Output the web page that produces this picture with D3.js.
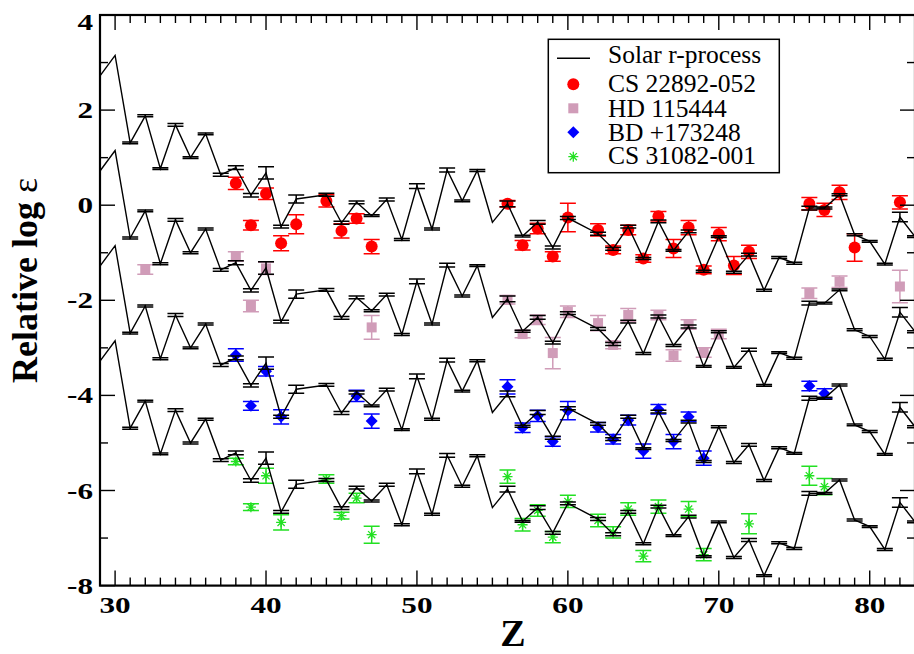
<!DOCTYPE html>
<html><head><meta charset="utf-8">
<script src="https://cdn.jsdelivr.net/npm/d3@7"></script>
<style>html,body{margin:0;padding:0;background:#fff;}svg{display:block;}</style>
</head><body>
<svg id="chart" width="914" height="654"></svg>
<script>
// ---------------- data ----------------
const solarZ   = [29,30,31,32,33,34,35,36,37,38,39,40,41,42,44,45,46,47,48,49,50,51,52,53,54,55,56,57,58,59,60,62,63,64,65,66,67,68,69,70,71,72,73,74,75,76,77,78,79,80,81,82,83];
const solarVal = [2.72,3.15,1.31,1.88,0.77,1.69,1.00,1.50,0.64,0.79,0.21,0.68,-0.45,0.13,0.22,-0.37,0.06,-0.22,0.12,-0.72,0.40,-0.50,0.74,0.09,0.73,-0.36,0.03,-0.65,-0.36,-0.89,-0.27,-0.60,-0.92,-0.45,-1.12,-0.34,-0.95,-0.55,-1.39,-0.66,-1.41,-1.04,-1.79,-1.10,-1.22,-0.06,-0.06,0.22,-0.62,-0.76,-1.24,-0.25,-0.66];
const solarErr = [0,0,0.02,0.02,0.02,0.03,0.02,0.02,0.03,0.04,0.035,0.13,0.03,0.085,0.03,0.03,0.03,0.02,0.03,0.02,0.05,0.02,0.04,0.02,0.02,0,0.06,0.02,0.04,0.03,0.03,0.03,0.03,0.03,0.02,0.03,0.02,0.03,0.02,0.02,0.02,0.03,0.02,0.02,0.02,0.04,0.02,0.02,0.02,0.02,0.02,0.1,0.02];
const solarOffsets = [0,-2,-4,-6];

const cs22892Z   = [38,39,40,41,42,44,45,46,47,56,57,58,59,60,62,63,64,65,66,67,68,69,70,71,72,76,77,78,79,82];
const cs22892Val = [0.46,-0.42,0.24,-0.80,-0.40,0.09,-0.54,-0.28,-0.87,0.03,-0.84,-0.49,-1.08,-0.26,-0.52,-0.94,-0.52,-1.12,-0.23,-0.91,-0.47,-1.36,-0.61,-1.27,-0.98,0.03,-0.10,0.27,-0.89,0.06];
const cs22892Err = [0.13,0.10,0.12,0.16,0.20,0.13,0.15,0.10,0.15,0.07,0.10,0.11,0.10,0.30,0.13,0.08,0.10,0.08,0.10,0.19,0.15,0.08,0.14,0.19,0.14,0.13,0.14,0.15,0.29,0.14];

const hd115444Z   = [32,38,39,40,47,56,57,58,59,60,62,63,64,66,67,68,69,70,76,78,82];
const hd115444Val = [-1.35,-1.08,-2.12,-1.33,-2.57,-1.99,-2.71,-2.41,-3.11,-2.24,-2.48,-2.94,-2.31,-2.31,-3.16,-2.51,-3.10,-2.71,-1.85,-1.61,-1.71];
const hd115444Err = [0.10,0.10,0.12,0.13,0.25,0.09,0.08,0.10,0.33,0.12,0.16,0.08,0.14,0.10,0.12,0.10,0.10,0.10,0.11,0.12,0.34];

const bd173248Z   = [38,39,40,41,46,47,56,57,58,59,60,62,63,64,65,66,67,68,69,76,77];
const bd173248Val = [-3.15,-4.22,-3.49,-4.45,-4.01,-4.54,-3.82,-4.68,-4.43,-4.97,-4.32,-4.67,-4.92,-4.52,-5.17,-4.29,-4.97,-4.45,-5.32,-3.80,-3.96];
const bd173248Err = [0.13,0.09,0.10,0.15,0.12,0.15,0.15,0.10,0.12,0.10,0.19,0.10,0.10,0.10,0.15,0.10,0.15,0.10,0.15,0.10,0.10];

const cs31082Z   = [38,39,40,41,44,45,46,47,56,57,58,59,60,62,63,64,65,66,68,69,72,76,77];
const cs31082Val = [-5.39,-6.35,-5.69,-6.67,-5.76,-6.53,-6.16,-6.93,-5.71,-6.72,-6.42,-6.98,-6.23,-6.63,-6.88,-6.39,-7.38,-6.34,-6.39,-7.35,-6.70,-5.69,-5.92];
const cs31082Err = [0.07,0.07,0.16,0.16,0.09,0.07,0.10,0.18,0.14,0.13,0.12,0.12,0.13,0.13,0.12,0.13,0.12,0.14,0.16,0.13,0.21,0.20,0.17];

const xTicks = [30,40,50,60,70,80];
const yTicks = [-8,-6,-4,-2,0,2,4];
const legendLabels = ["Solar r-process","CS 22892-052","HD 115444","BD +173248","CS 31082-001"];

// ---------------- layout ----------------
const L = 100, R = 915, T = 15, B = 585.6;
const serif = "'Liberation Serif','Times New Roman',Times,serif";
const svg = d3.select("#chart");
const x = d3.scaleLinear().domain([29,83]).range([L,R]);
const y = d3.scaleLinear().domain([-8,4]).range([B,T]);

const stars = [
  {name:legendLabels[1], Z:cs22892Z, v:cs22892Val, e:cs22892Err, color:"#ff0000", shape:"circle"},
  {name:legendLabels[2], Z:hd115444Z, v:hd115444Val, e:hd115444Err, color:"#d09cb8", shape:"square"},
  {name:legendLabels[3], Z:bd173248Z, v:bd173248Val, e:bd173248Err, color:"#0000ff", shape:"diamond"},
  {name:legendLabels[4], Z:cs31082Z, v:cs31082Val, e:cs31082Err, color:"#22e022", shape:"asterisk"}
];

function drawMarker(g, shape, cx, cy, color){
  if(shape==="circle"){
    g.append("circle").attr("cx",cx).attr("cy",cy).attr("r",6).attr("fill",color);
  } else if(shape==="square"){
    g.append("rect").attr("x",cx-5).attr("y",cy-5).attr("width",10).attr("height",10).attr("fill",color);
  } else if(shape==="diamond"){
    g.append("path").attr("d",`M${cx},${cy-6}L${cx+6},${cy}L${cx},${cy+6}L${cx-6},${cy}Z`).attr("fill",color);
  } else {
    const r=5, d=r*0.72;
    g.append("path").attr("d",`M${cx-r},${cy}L${cx+r},${cy}M${cx},${cy-r}L${cx},${cy+r}M${cx-d},${cy-d}L${cx+d},${cy+d}M${cx-d},${cy+d}L${cx+d},${cy-d}`)
      .attr("stroke",color).attr("stroke-width",1.3).attr("fill","none");
  }
}

const plot = svg.append("g");
const capW = 8;

// stars
stars.forEach(s=>{
  const g = plot.append("g");
  s.Z.forEach((z,i)=>{
    const cx=x(z), y1=y(s.v[i]+s.e[i]), y2=y(s.v[i]-s.e[i]);
    g.append("path").attr("d",`M${cx},${y1}L${cx},${y2}M${cx-capW},${y1}L${cx+capW},${y1}M${cx-capW},${y2}L${cx+capW},${y2}`)
      .attr("stroke",s.color).attr("stroke-width",1.5).attr("fill","none");
  });
  s.Z.forEach((z,i)=>drawMarker(g, s.shape, x(z), y(s.v[i]), s.color));
});

// solar r-process curves
solarOffsets.forEach(off=>{
  const pts = solarZ.map((z,i)=>({z, v:solarVal[i]+off, e:solarErr[i]}));
  const line = d3.line().x(d=>x(d.z)).y(d=>y(d.v));
  plot.append("path").attr("d",line(pts)).attr("fill","none").attr("stroke","#000").attr("stroke-width",1.4);
  pts.forEach(d=>{
    if(d.e<=0) return;
    const cx=x(d.z), y1=y(d.v+d.e), y2=y(d.v-d.e);
    plot.append("path").attr("d",`M${cx},${y1}L${cx},${y2}M${cx-capW},${y1}L${cx+capW},${y1}M${cx-capW},${y2}L${cx+capW},${y2}`)
      .attr("stroke","#000").attr("stroke-width",1.5).attr("fill","none");
  });
});

// axes frame + ticks
const ax = svg.append("g").attr("stroke","#000").attr("fill","none");
ax.append("rect").attr("x",L).attr("y",T).attr("width",R-L).attr("height",B-T).attr("stroke-width",2.2);
x.ticks(54).forEach(z=>{
  const len = (z%10===0)?15:8, px=x(z);
  ax.append("line").attr("x1",px).attr("x2",px).attr("y1",B).attr("y2",B-len).attr("stroke-width",1.4);
  ax.append("line").attr("x1",px).attr("x2",px).attr("y1",T).attr("y2",T+len).attr("stroke-width",1.4);
});
y.ticks(12).forEach(v=>{
  const len = (v%2===0)?15:8, py=y(v);
  ax.append("line").attr("x1",L).attr("x2",L+len).attr("y1",py).attr("y2",py).attr("stroke-width",1.4);
  ax.append("line").attr("x1",R).attr("x2",R-len).attr("y1",py).attr("y2",py).attr("stroke-width",1.4);
});

// tick labels
const tl = svg.append("g").style("font-family",serif).style("font-weight","bold").style("font-size","24px").attr("fill","#000");
xTicks.forEach(t=>{
  tl.append("text").attr("transform",`translate(${x(t)},613) scale(1.3,1)`).attr("text-anchor","middle").text(t);
});
yTicks.forEach(t=>{
  const by = Math.max(y(t)+8, 30);
  tl.append("text").attr("transform",`translate(93,${by}) scale(1.3,1)`).attr("text-anchor","end").text(t);
});

// axis titles
svg.append("text").attr("x",513).attr("y",646).attr("text-anchor","middle")
  .style("font-family",serif).style("font-weight","bold").style("font-size","38px").text("Z");
const yl = svg.append("text").attr("transform","translate(37,383) rotate(-90)").attr("text-anchor","start")
  .style("font-family",serif).style("font-weight","bold").style("font-size","36px");
yl.append("tspan").text("Relative log ");
yl.append("tspan").style("font-weight","normal").text("ε");

// legend
const lg = svg.append("g");
lg.append("rect").attr("x",548.3).attr("y",39.3).attr("width",231).attr("height",133.4).attr("fill","#fff").attr("stroke","#000").attr("stroke-width",1.5);
const rowY = [58.3,84.3,108.3,132.3,156.7];
const baseY = [63.3,92.3,116.7,140.7,164];
lg.append("line").attr("x1",557).attr("x2",590).attr("y1",rowY[0]).attr("y2",rowY[0]).attr("stroke","#000").attr("stroke-width",1.4);
stars.forEach((s,i)=>drawMarker(lg, s.shape, 573.3, rowY[i+1], s.color));
legendLabels.forEach((t,i)=>{
  lg.append("text").attr("x",608).attr("y",baseY[i]).style("font-family",serif).style("font-size","25.5px").attr("fill","#000").text(t);
});
</script>
</body></html>
